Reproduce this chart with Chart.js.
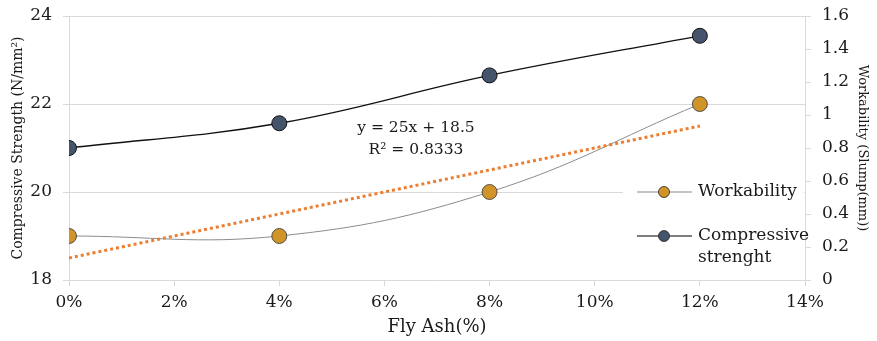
<!DOCTYPE html>
<html>
<head>
<meta charset="utf-8">
<script src="https://cdn.jsdelivr.net/npm/chart.js@4"></script>
<style>
  html, body { margin: 0; padding: 0; background: #fff; }
  #wrap { width: 877px; height: 341px; }
</style>
</head>
<body>
<div id="wrap"><canvas id="chart"></canvas></div>
<script>
// fly ash content (%) and measured values
const flyAsh = [0, 4, 8, 12];
const workability = [19, 19, 20, 22];
const compressive = [0.8, 0.95, 1.24, 1.48];

// linear trendline of the workability series
const trendX = [0, 12];
const trendY = [18.5, 21.5];
const trendLabel = ['y = 25x + 18.5', 'R\u00b2 = 0.8333'];
const trendLabelPos = { x: 6.6, y: 21.2 };

const seriesNames = ['Workability', ['Compressive', 'strenght']];
const goldFill = '#D09428';
const slateFill = '#44546A';
const FONT = "'DejaVu Serif', serif";
const TEXT = '#1a1a1a';
const GRID = '#D9D9D9';

const toPoints = (xs, ys) => xs.map((x, i) => ({ x: x, y: ys[i] }));

// keep fixed box sizes and drop the label overhang padding
const fixBox = (w, h) => s => {
    if (w) s.width = w;
    if (h) s.height = h;
    s.paddingTop = 0;
    s.paddingBottom = 0;
    s.paddingLeft = 0;
    s.paddingRight = 0;
};

// trendline equation text
const trendText = {
    id: 'trendText',
    afterDatasetsDraw(chart) {
        const { ctx, scales } = chart;
        const px = scales.x.getPixelForValue(trendLabelPos.x);
        const py = scales.y.getPixelForValue(trendLabelPos.y);
        ctx.save();
        ctx.fillStyle = TEXT;
        ctx.font = "15.5px " + FONT;
        ctx.textAlign = 'center';
        ctx.textBaseline = 'middle';
        ctx.fillText(trendLabel[0], px, py - 11);
        ctx.fillText(trendLabel[1], px, py + 11);
        ctx.restore();
    }
};

// legend box sitting inside the plot, lower right
const sideLegend = {
    id: 'sideLegend',
    beforeDatasetsDraw(chart) {
        const { ctx, chartArea } = chart;
        ctx.save();
        ctx.fillStyle = '#fff';
        ctx.fillRect(chartArea.right - 182, chartArea.bottom - 108, 181, 107);
        ctx.restore();
    },
    afterDraw(chart) {
        const { ctx, chartArea } = chart;
        const x0 = chartArea.right - 168;
        const rows = [
            { y: chartArea.bottom - 88, line: '#8C8C8C', fill: goldFill, text: [seriesNames[0]] },
            { y: chartArea.bottom - 44, line: '#000', fill: slateFill, text: seriesNames[1] }
        ];
        ctx.save();
        rows.forEach(r => {
            ctx.strokeStyle = r.line;
            ctx.lineWidth = 1.2;
            ctx.beginPath();
            ctx.moveTo(x0, r.y);
            ctx.lineTo(x0 + 55, r.y);
            ctx.stroke();
            ctx.beginPath();
            ctx.arc(x0 + 27, r.y, 5.5, 0, Math.PI * 2);
            ctx.fillStyle = r.fill;
            ctx.fill();
            ctx.strokeStyle = '#222';
            ctx.lineWidth = 0.8;
            ctx.stroke();
            ctx.fillStyle = TEXT;
            ctx.font = "17px " + FONT;
            ctx.textAlign = 'left';
            ctx.textBaseline = 'middle';
            r.text.forEach((t, i) => ctx.fillText(t, x0 + 61, r.y + i * 22));
        });
        ctx.restore();
    }
};

const data = {
    datasets: [
        {
            label: 'Trendline',
            data: toPoints(trendX, trendY),
            borderColor: '#ED7D31',
            borderWidth: 3,
            borderDash: [3, 3],
            pointRadius: 0,
            tension: 0,
            yAxisID: 'y'
        },
        {
            label: 'Workability',
            data: toPoints(flyAsh, workability),
            borderColor: '#8C8C8C',
            borderWidth: 1,
            backgroundColor: goldFill,
            pointBorderColor: '#333',
            pointBorderWidth: 0.8,
            pointRadius: 7.5,
            tension: 0.4,
            yAxisID: 'y'
        },
        {
            label: 'Compressive strenght',
            data: toPoints(flyAsh, compressive),
            borderColor: '#111',
            borderWidth: 1.3,
            backgroundColor: slateFill,
            pointBorderColor: '#111',
            pointBorderWidth: 1,
            pointRadius: 7.5,
            tension: 0.4,
            yAxisID: 'y1'
        }
    ]
};

const config = {
    type: 'line',
    data: data,
    options: {
        animation: false,
        responsive: true,
        maintainAspectRatio: false,
        layout: { padding: { top: 16, left: 0, right: 0, bottom: 0 } },
        plugins: {
            legend: { display: false },
            tooltip: { enabled: false }
        },
        scales: {
            x: {
                type: 'linear',
                min: 0,
                max: 14,
                afterFit: fixBox(0, 61),
                ticks: {
                    stepSize: 2,
                    padding: 6,
                    color: TEXT,
                    font: { family: FONT, size: 17 },
                    callback: v => v + '%'
                },
                grid: { drawOnChartArea: false, tickLength: 6, color: GRID },
                border: { color: GRID },
                title: {
                    display: true,
                    text: 'Fly Ash(%)',
                    color: TEXT,
                    font: { family: FONT, size: 18 },
                    padding: { top: 0, bottom: 3 }
                }
            },
            y: {
                type: 'linear',
                position: 'left',
                min: 18,
                max: 24,
                afterFit: fixBox(69, 0),
                ticks: {
                    stepSize: 2,
                    padding: 11,
                    color: TEXT,
                    font: { family: FONT, size: 17 }
                },
                grid: { color: GRID, tickLength: 6 },
                border: { color: GRID },
                title: {
                    display: true,
                    text: 'Compressive Strength (N/mm\u00b2)',
                    color: TEXT,
                    font: { family: FONT, size: 14 },
                    padding: { top: 10, bottom: 0 }
                }
            },
            y1: {
                type: 'linear',
                position: 'right',
                min: 0,
                max: 1.6,
                afterFit: fixBox(72, 0),
                ticks: {
                    stepSize: 0.2,
                    padding: 11,
                    color: TEXT,
                    font: { family: FONT, size: 17 },
                    callback: v => String(Number(v.toFixed(1)))
                },
                grid: { drawOnChartArea: false, tickLength: 6, color: GRID },
                border: { color: GRID },
                title: {
                    display: true,
                    text: 'Workability (Slump(mm))',
                    color: TEXT,
                    font: { family: FONT, size: 13 },
                    padding: { top: 7, bottom: 0 }
                }
            }
        }
    },
    plugins: [sideLegend, trendText]
};

new Chart(document.getElementById('chart').getContext('2d'), config);
</script>
</body>
</html>
